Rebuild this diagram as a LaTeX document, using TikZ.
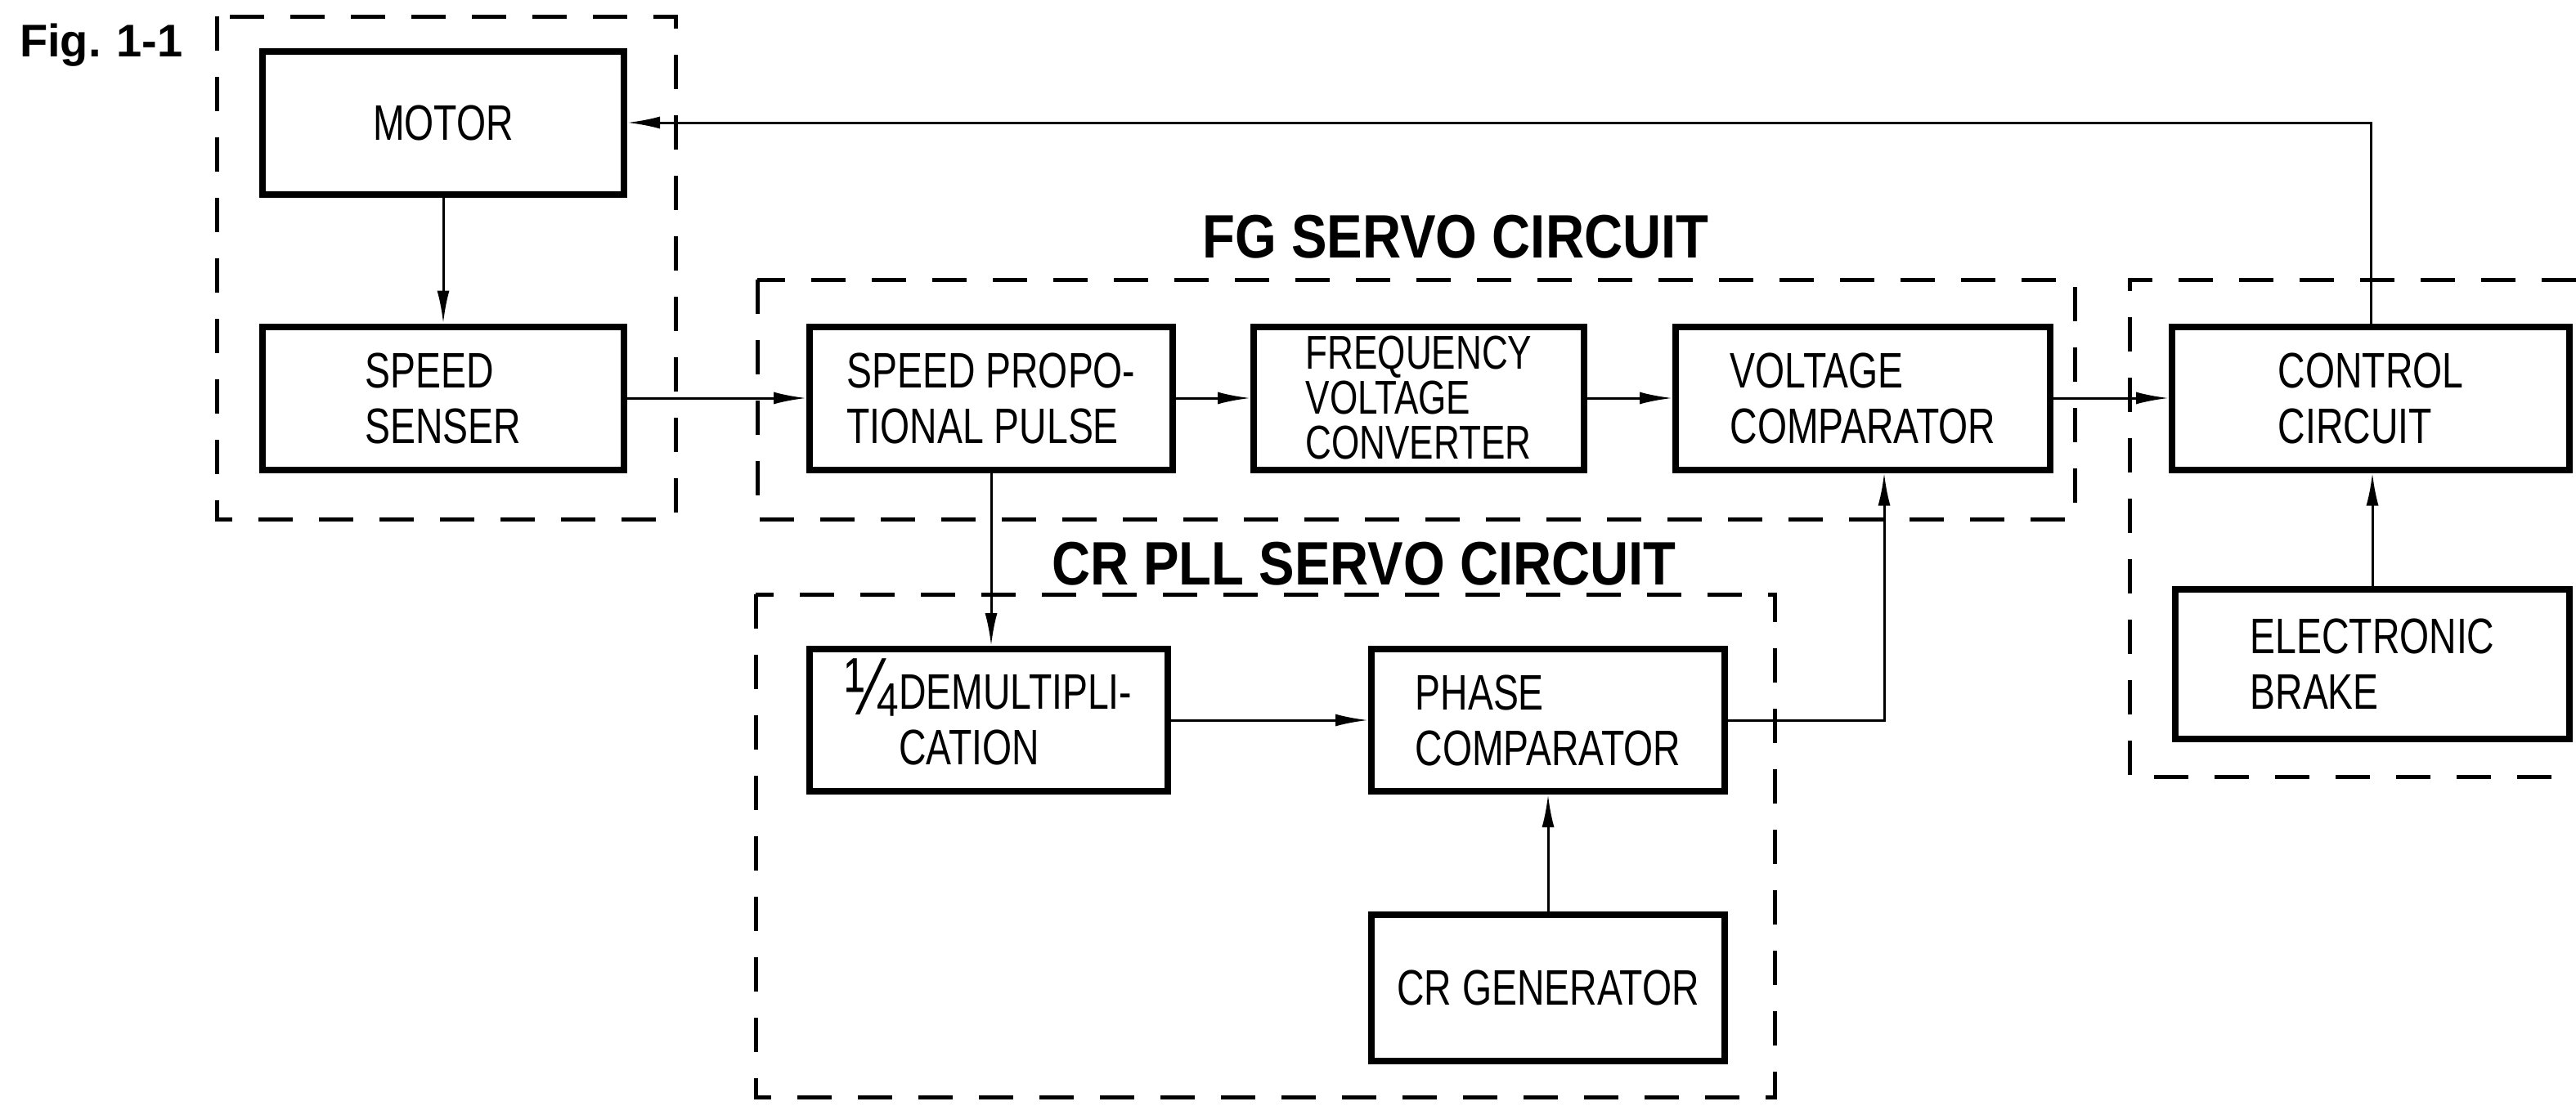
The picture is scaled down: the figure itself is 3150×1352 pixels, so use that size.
\documentclass[tikz,border=0pt]{standalone}
\usepackage{fontspec}
\setmainfont{Liberation Sans}
\newfontfamily\boxfont[FakeStretch=0.76]{Liberation Sans}
\newfontfamily\titlefont[FakeStretch=0.87]{Liberation Sans}
\usetikzlibrary{arrows.meta}
\newcommand{\myquarter}{\raisebox{-7pt}{\fontsize{100}{100}\selectfont ¼}\kern2pt}
\begin{document}
\begin{tikzpicture}[x=1pt,y=-1pt,
  blk/.style={draw, line width=8pt, inner sep=0pt, align=left,
    font=\boxfont\fontsize{61}{68}\selectfont},
  grp/.style={line width=5pt, dash pattern=on 42pt off 32pt},
  conn/.style={line width=3pt, -{Latex[length=40pt,width=15pt]}},
  ttl/.style={inner sep=0pt, font=\titlefont\bfseries\fontsize{75}{80}\selectfont},
]
\useasboundingbox[fill=white] (0,0) rectangle (3150,1352);

% figure label
\node[anchor=base west, inner sep=0pt, font=\bfseries\fontsize{56}{60}\selectfont] (fig) at (24,69) {Fig.\,\,1-1};

% group frames
\draw[grp] (265,20) rectangle (826,635);
\draw[grp] (926,342) rectangle (2537,635);
\draw[grp] (924,727) rectangle (2170,1342);
\draw[grp] (3150,342) -- (2604,342) -- (2604,950) -- (3150,950);

% titles
\node[ttl] (fgt) at (1780,290) {FG SERVO CIRCUIT};
\node[ttl] (crt) at (1668,690) {CR PLL SERVO CIRCUIT};

% blocks
\node[blk, minimum width=442pt, minimum height=175pt] (motor) at (542,150) {MOTOR};
\node[blk, minimum width=442pt, minimum height=175pt] (senser) at (542,487) {SPEED\\SENSER};
\node[blk, minimum width=444pt, minimum height=175pt] (spp) at (1212,487) {SPEED PROPO-\\TIONAL PULSE};
\node[blk, minimum width=404pt, minimum height=175pt,
      font=\boxfont\fontsize{58}{55}\selectfont] (fvc) at (1735,487) {FREQUENCY\\VOLTAGE\\CONVERTER};
\node[blk, minimum width=458pt, minimum height=175pt] (vc) at (2278,487) {VOLTAGE\\COMPARATOR};
\node[blk, minimum width=486pt, minimum height=175pt] (ctrl) at (2899,487) {CONTROL\\CIRCUIT};
\node[blk, minimum width=482pt, minimum height=183pt] (brake) at (2901,812) {ELECTRONIC\\BRAKE};
\node[blk, minimum width=438pt, minimum height=174pt] (demult) at (1209,881) {\smash{\myquarter}DEMULTIPLI-\\\hphantom{\myquarter}CATION};
\node[blk, minimum width=432pt, minimum height=174pt] (phase) at (1893,881) {PHASE\\COMPARATOR};
\node[blk, minimum width=432pt, minimum height=179pt] (crgen) at (1893,1208) {CR GENERATOR};

% connectors
\draw[conn] (motor) -- (senser);
\draw[conn] (senser) -- (spp);
\draw[conn] (spp) -- (fvc);
\draw[conn] (fvc) -- (vc);
\draw[conn] (vc) -- (ctrl);
\draw[conn] (ctrl.north) |- (motor.east);
\draw[conn] (brake.north) -- (brake.north |- ctrl.south);
\draw[conn] (spp.south) -- (spp.south |- demult.north);
\draw[conn] (demult) -- (phase);
\draw[conn] (crgen) -- (phase);
\coordinate (turn) at (2304,881);
\draw[conn] (phase.east) -- (turn) -- (turn |- vc.south);
\end{tikzpicture}
\end{document}
